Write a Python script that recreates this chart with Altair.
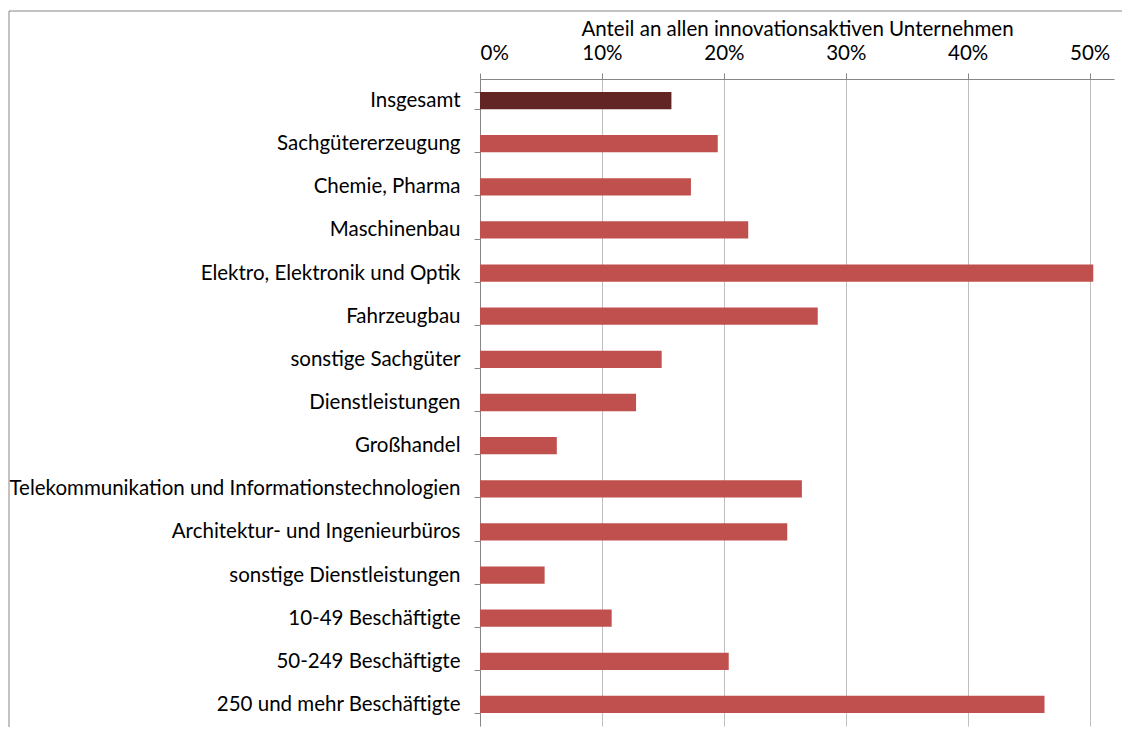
import altair as alt
import pandas as pd

categories = [
    "Insgesamt",
    "Sachgütererzeugung",
    "Chemie, Pharma",
    "Maschinenbau",
    "Elektro, Elektronik und Optik",
    "Fahrzeugbau",
    "sonstige Sachgüter",
    "Dienstleistungen",
    "Großhandel",
    "Telekommunikation und Informationstechnologien",
    "Architektur- und Ingenieurbüros",
    "sonstige Dienstleistungen",
    "10-49 Beschäftigte",
    "50-249 Beschäftigte",
    "250 und mehr Beschäftigte",
]
values = [0.157, 0.195, 0.173, 0.220, 0.503, 0.277, 0.149, 0.128, 0.063,
          0.264, 0.252, 0.053, 0.108, 0.204, 0.463]
groups = ["gesamt"] + ["teil"] * 14
tick_values = [0.0, 0.1, 0.2, 0.3, 0.4, 0.5]

df = pd.DataFrame({"Kategorie": categories, "Anteil": values, "Gruppe": groups})

FONT = "Lato"
FS = 20.5

bars = alt.Chart(df).mark_bar().encode(
    y=alt.Y(
        "Kategorie:N",
        sort=categories,
        scale=alt.Scale(paddingInner=0.6, paddingOuter=0.3),
        axis=alt.Axis(
            title=None,
            tickBand="extent",
            domainColor="#868686",
            tickColor="#868686",
            tickSize=6,
            labelPadding=14,
            labelFontSize=FS,
            labelColor="black",
            labelLimit=0,
            grid=False,
        ),
    ),
    x=alt.X(
        "Anteil:Q",
        scale=alt.Scale(domain=[0, 0.52], nice=False),
        axis=alt.Axis(
            orient="top",
            values=tick_values,
            format=".0%",
            title="Anteil an allen innovationsaktiven Unternehmen",
            grid=True,
            gridColor="#BFBFBF",
            domainColor="#868686",
            tickColor="#868686",
            tickSize=6,
            labelPadding=10,
            labelFontSize=FS,
            labelColor="black",
            titleFontSize=FS,
            titleFontWeight="normal",
            titleColor="black",
            titlePadding=4,
        ),
    ),
    color=alt.Color(
        "Gruppe:N",
        scale=alt.Scale(domain=["gesamt", "teil"], range=["#632523", "#C0504D"]),
        legend=None,
    ),
)

frame = alt.Chart(pd.DataFrame({"a": [0]})).mark_rect(
    fillOpacity=0, stroke="#868686", strokeWidth=1
).encode(
    x=alt.value(-471), x2=alt.value(700), y=alt.value(-68), y2=alt.value(700)
)

chart = alt.layer(frame, bars).properties(
    width=634,
    height=647,
    autosize=alt.AutoSizeParams(type="none"),
    padding={"left": 472, "top": 71, "right": 8, "bottom": 1},
).configure(font=FONT).configure_view(stroke=None)

chart.save("out.html", embed_options={"renderer": "svg", "actions": False})
